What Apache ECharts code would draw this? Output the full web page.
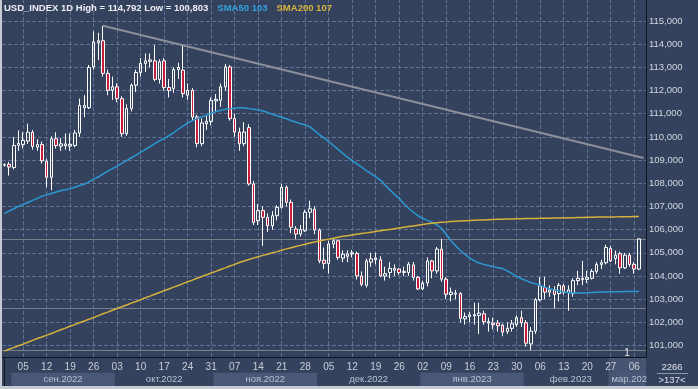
<!DOCTYPE html>
<html><head><meta charset="utf-8">
<script src="https://cdn.jsdelivr.net/npm/echarts@6.0.0/dist/echarts.min.js"></script>
<style>html,body{margin:0;padding:0;background:#35425e;overflow:hidden}#c{width:698px;height:389px}</style>
</head><body><div id="c"></div>
<script>
// ---- data ----
const dates = [
'2022-08-30','2022-08-31','2022-09-01','2022-09-02',
'2022-09-05','2022-09-06','2022-09-07','2022-09-08','2022-09-09',
'2022-09-12','2022-09-13','2022-09-14','2022-09-15','2022-09-16',
'2022-09-19','2022-09-20','2022-09-21','2022-09-22','2022-09-23',
'2022-09-26','2022-09-27','2022-09-28','2022-09-29','2022-09-30',
'2022-10-03','2022-10-04','2022-10-05','2022-10-06','2022-10-07',
'2022-10-10','2022-10-11','2022-10-12','2022-10-13','2022-10-14',
'2022-10-17','2022-10-18','2022-10-19','2022-10-20','2022-10-21',
'2022-10-24','2022-10-25','2022-10-26','2022-10-27','2022-10-28',
'2022-10-31','2022-11-01','2022-11-02','2022-11-03','2022-11-04',
'2022-11-07','2022-11-08','2022-11-09','2022-11-10','2022-11-11',
'2022-11-14','2022-11-15','2022-11-16','2022-11-17','2022-11-18',
'2022-11-21','2022-11-22','2022-11-23','2022-11-24','2022-11-25',
'2022-11-28','2022-11-29','2022-11-30','2022-12-01','2022-12-02',
'2022-12-05','2022-12-06','2022-12-07','2022-12-08','2022-12-09',
'2022-12-12','2022-12-13','2022-12-14','2022-12-15','2022-12-16',
'2022-12-19','2022-12-20','2022-12-21','2022-12-22','2022-12-23',
'2022-12-26','2022-12-27','2022-12-28','2022-12-29','2022-12-30',
'2023-01-02','2023-01-03','2023-01-04','2023-01-05','2023-01-06',
'2023-01-09','2023-01-10','2023-01-11','2023-01-12','2023-01-13',
'2023-01-16','2023-01-17','2023-01-18','2023-01-19','2023-01-20',
'2023-01-23','2023-01-24','2023-01-25','2023-01-26','2023-01-27',
'2023-01-30','2023-01-31','2023-02-01','2023-02-02','2023-02-03',
'2023-02-06','2023-02-07','2023-02-08','2023-02-09','2023-02-10',
'2023-02-13','2023-02-14','2023-02-15','2023-02-16','2023-02-17',
'2023-02-20','2023-02-21','2023-02-22','2023-02-23','2023-02-24',
'2023-02-27','2023-02-28','2023-03-01','2023-03-02','2023-03-03',
'2023-03-06','2023-03-07','2023-03-08'
];
// [open, close, low, high]
const candles = [
[108.78,108.80,108.72,108.86],[108.82,108.70,108.33,108.92],[108.68,109.63,108.60,110.00],[109.63,109.72,109.40,110.28],
[109.67,109.85,109.50,110.20],[109.82,110.20,109.70,110.57],[110.20,109.59,109.45,110.30],[109.56,109.67,109.40,109.90],[109.67,108.97,108.85,109.80],
[108.95,108.26,107.83,109.05],[108.26,109.92,107.70,110.02],[109.92,109.63,109.50,110.20],[109.60,109.70,109.40,109.95],[109.62,109.70,109.45,110.15],
[109.60,109.68,109.40,110.15],[109.63,110.17,109.55,110.30],[110.17,111.36,110.00,111.65],[111.26,111.36,110.85,111.80],[111.26,113.00,111.20,113.10],
[113.02,114.10,112.90,114.55],[114.06,114.15,113.31,114.49],[114.15,112.74,112.60,114.792],[112.74,112.01,111.80,112.90],[112.01,112.16,111.60,112.60],
[112.16,111.65,111.50,112.30],[111.65,110.14,110.00,111.75],[110.14,111.22,110.05,111.40],[111.22,112.23,111.10,112.30],[112.23,112.78,111.94,112.90],
[112.78,113.17,112.60,113.40],[113.17,113.28,112.80,113.60],[113.26,113.32,113.00,113.60],[113.28,112.48,112.40,113.96],[112.48,113.24,112.30,113.35],
[113.28,112.13,112.00,113.40],[112.13,112.00,111.70,112.50],[112.09,112.90,111.90,113.00],[112.90,113.00,112.50,113.20],[112.88,111.87,111.70,113.96],
[111.80,112.01,111.60,112.30],[112.01,110.86,110.70,112.10],[110.86,109.71,109.55,110.95],[109.71,110.60,109.60,110.80],[110.57,110.67,110.30,110.90],
[110.67,111.58,110.50,111.70],[111.55,111.62,111.10,111.85],[111.58,112.16,111.30,112.30],[112.16,113.02,112.00,113.15],[113.02,110.79,110.70,113.10],
[110.79,110.21,110.00,111.00],[110.21,109.71,109.40,110.40],[109.71,110.21,109.60,110.64],[110.40,107.97,107.90,110.55],[107.97,106.31,106.20,108.10],
[106.39,106.82,106.20,107.10],[106.82,106.53,105.30,107.00],[106.53,106.17,105.90,106.70],[106.17,106.60,106.00,106.80],[106.60,106.96,106.40,107.05],
[106.96,107.83,106.90,107.97],[107.83,107.18,107.00,107.90],[107.18,106.10,105.85,107.30],[106.03,105.81,105.60,106.15],[105.81,106.00,105.70,106.20],
[105.95,106.75,105.90,106.85],[106.75,106.90,106.50,107.25],[106.88,105.98,105.80,107.00],[105.98,104.65,104.55,106.05],[104.68,104.54,104.30,105.23],
[104.54,105.38,104.10,105.52],[105.38,105.52,105.20,105.58],[105.52,104.80,104.70,105.55],[104.77,104.94,104.60,105.10],[104.85,104.95,104.60,105.10],
[104.95,105.00,104.80,105.12],[104.97,104.00,103.85,105.05],[104.00,103.64,103.55,104.20],[103.60,104.65,103.50,104.75],[104.60,104.74,104.40,105.00],
[104.70,104.78,104.50,105.00],[104.70,104.00,103.95,104.85],[104.00,104.10,103.80,104.40],[104.15,104.33,103.90,104.60],[104.25,104.33,104.00,104.50],
[104.30,104.15,104.05,104.35],[104.15,104.20,104.00,104.40],[104.15,104.51,104.00,104.60],[104.48,103.94,103.80,104.60],[103.94,103.44,103.40,104.00],
[103.44,103.70,103.40,103.80],[103.70,104.65,103.55,104.80],[104.65,104.22,103.90,104.70],[104.22,105.16,104.10,105.25],[105.16,103.86,103.75,105.60],
[103.86,103.21,103.00,103.95],[103.20,103.30,102.90,103.50],[103.22,103.26,103.00,103.40],[103.24,102.17,102.00,103.30],[102.15,102.25,101.90,102.42],
[102.25,102.32,102.00,102.45],[102.28,102.33,101.90,102.85],[102.30,102.40,101.50,102.85],[102.37,102.03,101.90,102.50],[101.97,102.03,101.60,102.20],
[101.97,101.90,101.70,102.20],[101.97,101.85,101.60,102.10],[101.88,101.58,101.40,101.95],[101.60,101.74,101.50,102.00],[101.74,101.94,101.60,102.10],
[101.90,102.20,101.80,102.30],[102.20,101.98,101.80,102.50],[101.98,101.10,100.95,102.10],[101.07,101.62,100.803,101.80],[101.62,102.97,101.50,103.05],
[102.97,103.57,102.90,103.95],[103.50,103.30,103.00,103.96],[103.30,103.40,103.10,103.60],[103.40,103.20,102.60,103.55],[103.24,103.60,102.90,103.70],
[103.57,103.28,103.20,103.65],[103.28,103.40,102.50,103.60],[103.24,103.80,103.10,103.90],[103.80,103.90,103.60,104.22],[103.90,103.85,103.60,104.65],
[103.85,103.93,103.70,104.22],[103.90,104.20,103.85,104.30],[104.20,104.50,104.10,104.60],[104.50,104.57,104.30,104.70],[104.57,105.23,104.50,105.35],
[105.19,104.65,104.60,105.30],[104.75,104.90,104.50,105.10],[104.96,104.35,104.10,105.05],[104.35,104.90,104.30,105.00],[104.90,104.50,104.40,105.00],
[104.50,104.30,104.10,104.60],[104.30,105.60,104.25,105.62],
'-'
];
const sma50 = [
106.70,106.80,106.90,107.00,
107.09,107.17,107.26,107.35,107.44,107.50,107.56,107.62,107.68,107.72,
107.76,107.83,107.90,107.96,108.06,108.18,108.28,108.40,108.52,108.63,
108.74,108.86,108.98,109.10,109.21,109.33,109.46,109.58,109.71,109.83,
109.93,110.05,110.18,110.33,110.47,110.60,110.70,110.79,110.87,110.94,
111.02,111.09,111.15,111.19,111.22,111.24,111.26,111.26,111.22,111.19,
111.16,111.12,111.06,110.98,110.91,110.85,110.78,110.70,110.64,110.57,
110.52,110.44,110.27,110.10,109.96,109.80,109.63,109.46,109.29,109.13,
108.98,108.84,108.70,108.55,108.42,108.28,108.14,107.92,107.72,107.52,
107.35,107.12,106.92,106.75,106.60,106.48,106.40,106.32,106.20,106.05,
105.80,105.52,105.30,105.10,104.93,104.78,104.65,104.56,104.50,104.45,
104.40,104.36,104.32,104.22,104.10,103.98,103.88,103.80,103.72,103.66,
103.60,103.52,103.45,103.40,103.35,103.31,103.29,103.27,103.27,103.27,
103.28,103.29,103.30,103.31,103.31,103.32,103.32,103.32,103.33,103.33,103.33,103.33,
null
];
const sma200 = [
100.76,100.84,100.91,100.99,
101.06,101.14,101.22,101.30,101.37,101.45,101.52,101.60,101.68,101.75,
101.83,101.90,101.98,102.06,102.13,102.21,102.29,102.37,102.44,102.52,
102.60,102.67,102.75,102.83,102.90,102.98,103.06,103.13,103.21,103.29,
103.36,103.44,103.52,103.59,103.67,103.75,103.82,103.90,103.98,104.05,
104.13,104.20,104.28,104.35,104.43,104.50,104.58,104.65,104.71,104.77,
104.83,104.89,104.94,105.00,105.05,105.11,105.17,105.22,105.27,105.32,
105.37,105.42,105.47,105.51,105.55,105.59,105.63,105.67,105.71,105.74,
105.77,105.80,105.83,105.86,105.89,105.92,105.95,105.98,106.01,106.04,
106.07,106.10,106.13,106.16,106.19,106.22,106.25,106.28,106.30,106.32,
106.33,106.35,106.36,106.37,106.38,106.39,106.40,106.41,106.42,106.43,
106.44,106.45,106.45,106.46,106.46,106.47,106.47,106.48,106.48,106.48,
106.49,106.49,106.49,106.50,106.50,106.50,106.51,106.51,106.52,106.52,
106.53,106.53,106.54,106.54,106.55,106.55,106.55,106.56,106.56,106.56,106.57,106.57,
null
];
const yTicks = [101,102,103,104,105,106,107,108,109,110,111,112,113,114,115];
const levels = [105.600, 102.614, 100.803];
const trendStart = ['2022-09-28', 114.792];
const trendAtAxis = 109.067;
const monthKeys = ['2022-09','2022-10','2022-11','2022-12','2023-01','2023-02','2023-03'];
const monthLabels = ['сен.2022','окт.2022','ноя.2022','дек.2022','янв.2023','фев.2023','мар.2023'];
const monthShaded = [true,false,true,false,true,false,true];
const overlayFrom = '2023-02-27';
const barsInfo = ['2266', '>137<'];

// ---- styling ----
const BG = '#35425e';
const GRIDC = '#617193';
const FONT = "'Liberation Sans',Arial,sans-serif";
const FS = 9.5;
const Y_MIN = 100.505, Y_MAX = 115.906;
const fmt = v => v.toFixed(3).replace('.', ',');
const isMon = s => new Date(s + 'T00:00:00Z').getUTCDay() === 1;
const N = dates.length;
const mondays = dates.filter(isMon);
const real = candles.filter(Array.isArray);
const hi = Math.max(...real.map(c => c[3]));
const lo = Math.min(...real.map(c => c[2]));
const last50 = sma50[N - 2], last200 = sma200[N - 2];

const tStartIdx = dates.indexOf(trendStart[0]);
const slope = (trendAtAxis - trendStart[1]) / ((N - 0.5) - tStartIdx);
const trendEnd = trendStart[1] + slope * ((N - 1) - tStartIdx);

function tagLabel(text, bg, fg) {
  return {
    show: true, position: 'end', distance: 1,
    formatter: '{a|◀}{b|' + text + '}',
    rich: {
      a: {color: bg, fontSize: 8, fontFamily: 'DejaVu Sans', lineHeight: 13, padding: [0, 0, 0, 0]},
      b: {backgroundColor: bg, color: fg, fontSize: 10, fontFamily: FONT, width: 40, height: 13, lineHeight: 13, padding: [0, 0, 0, 2]}
    }
  };
}
const BEIGE = '#e3e3d3';
const dashStyle = {color: GRIDC, type: 'dashed', width: 1, opacity: 1};

const starts = monthKeys.map(k => dates.findIndex(d => d.startsWith(k)));
const monthAreas = monthKeys.map((k, i) => {
  const s = starts[i], e = i < monthKeys.length - 1 ? starts[i + 1] : N;
  return [
    {xAxis: s - 0.5, yAxis: 0, name: monthLabels[i],
     itemStyle: {color: monthShaded[i] ? '#4a5877' : 'rgba(0,0,0,0)'},
     label: {show: true, position: 'inside', color: '#b9c1d1', fontSize: FS, fontFamily: FONT}},
    {xAxis: e - 0.5, yAxis: 0.95}
  ];
});

const chart = echarts.init(document.getElementById('c'), null, {renderer: 'canvas'});
chart.setOption({
  backgroundColor: BG,
  animation: false,
  title: {
    left: 4, top: 3, padding: 0,
    text: '{a|USD_INDEX 1D High = ' + fmt(hi) + ' Low = ' + fmt(lo) + '}{b|SMA50 ' + Math.round(last50) + '}{c|SMA200 ' + Math.round(last200) + '}',
    textStyle: {rich: {
      a: {color: '#eceef2', fontSize: FS, fontFamily: FONT, padding: [0, 9, 0, 0]},
      b: {color: '#33a2e2', fontSize: FS, fontFamily: FONT, padding: [0, 9, 0, 0]},
      c: {color: '#d9b43c', fontSize: FS, fontFamily: FONT}
    }}
  },
  grid: [
    {left: 2, right: 52, top: 0, height: 357},
    {left: 2, right: 52, top: 358, height: 28}
  ],
  xAxis: [
    {type: 'category', data: dates, gridIndex: 0, boundaryGap: true,
     axisLine: {show: true, lineStyle: {color: '#10151f', width: 1}},
     axisTick: {show: false},
     axisLabel: {interval: (i, v) => isMon(v), formatter: v => v.slice(8), color: '#c9ced8',
                 fontSize: 10, fontFamily: FONT, margin: 5},
     splitLine: {show: false}},
    {type: 'value', gridIndex: 1, min: -0.5, max: N - 0.5, show: false}
  ],
  yAxis: [
    {type: 'value', gridIndex: 0, position: 'right', min: Y_MIN, max: Y_MAX,
     axisLine: {show: true, lineStyle: {color: '#10151f', width: 1}},
     axisLabel: {show: false}, axisTick: {show: false}, splitLine: {show: false}},
    {type: 'value', gridIndex: 1, position: 'right', min: 0, max: 2,
     axisLine: {show: true, lineStyle: {color: '#10151f', width: 1}},
     axisLabel: {show: false}, axisTick: {show: false}, splitLine: {show: false}}
  ],
  series: [
    { // horizontal grid lines and price scale labels
      type: 'line', data: dates.map(() => '-'), z: 1, silent: true,
      markLine: {
        symbol: 'none', silent: true, z: 1, animation: false,
        lineStyle: dashStyle,
        label: {show: false},
        data: yTicks.map(v => ({yAxis: v, lineStyle: dashStyle, label: {show: true, position: 'end', distance: 3,
                  formatter: fmt(v), color: '#d3d7df', fontSize: FS, fontFamily: FONT}}))
      }
    },
    { // vertical (weekly) grid lines
      type: 'line', data: dates.map(() => '-'), z: 1, silent: true,
      markLine: {
        symbol: 'none', silent: true, z: 1, animation: false,
        lineStyle: dashStyle,
        label: {show: false},
        data: mondays.map(d => ({xAxis: d, lineStyle: dashStyle}))
      }
    },
    {
      type: 'candlestick', name: 'USD_INDEX', data: candles, z: 2, barWidth: 3,
      itemStyle: {color: 'transparent', color0: '#c41e3a', borderColor: '#ffffff', borderColor0: '#ffffff', borderWidth: 1},
      markLine: {
        symbol: 'none', silent: true, z: 1, animation: false,
        label: {show: false},
        lineStyle: {color: '#7b818c', type: 'solid', width: 1},
        data: levels.map(v => ({yAxis: v}))
      }
    },
    {
      type: 'line', name: 'SMA50', data: sma50, symbol: 'none', z: 3,
      lineStyle: {color: '#2b98d4', width: 1.5},
      markLine: {symbol: 'none', silent: true, z: 10, animation: false,
        data: [{yAxis: last50, lineStyle: {opacity: 0}, label: tagLabel(String(Math.round(last50)), '#35b0da', '#0d1824')}]}
    },
    {
      type: 'line', name: 'SMA200', data: sma200, symbol: 'none', z: 3,
      lineStyle: {color: '#d4b23c', width: 1.5},
      markLine: {symbol: 'none', silent: true, z: 10, animation: false,
        data: [{yAxis: last200, lineStyle: {opacity: 0}, label: tagLabel(String(Math.round(last200)), '#c2ae3e', '#1a1a10')}]}
    },
    { // trend line + price tags
      type: 'line', data: dates.map(() => '-'), z: 4, silent: true,
      markLine: {
        symbol: 'none', silent: true, z: 10, animation: false,
        label: {show: false},
        data: [
          [{coord: [trendStart[0], trendStart[1]], lineStyle: {color: '#8b9099', width: 2, type: 'solid'}},
           {coord: [dates[N - 1], trendEnd], lineStyle: {color: '#8b9099', width: 2, type: 'solid'}}],
          {yAxis: trendAtAxis, lineStyle: {opacity: 0}, label: tagLabel(fmt(trendAtAxis), BEIGE, '#202020')}
        ].concat(levels.map(v => ({yAxis: v, lineStyle: {opacity: 0}, label: tagLabel(fmt(v), BEIGE, '#202020')})))
      }
    },
    { // overlay of the last period on the date scale
      type: 'line', xAxisIndex: 1, yAxisIndex: 1, data: [[-10, -10]], symbol: 'none', z: -1, silent: true,
      markArea: {silent: true, z: -1,
        data: [[{xAxis: dates.indexOf(overlayFrom) - 0.5, yAxis: 0, itemStyle: {color: 'rgba(120,136,168,0.28)'}}, {xAxis: N - 0.5, yAxis: 2}]]}
    },
    { // month bands
      type: 'line', xAxisIndex: 1, yAxisIndex: 1, data: [[-10, -10]], symbol: 'none', z: 1, silent: true,
      markArea: {silent: true, z: 1, data: monthAreas}
    }
  ],
  graphic: [
    {type: 'rect', z: 100, silent: true, shape: {x: 0, y: 0, width: 2, height: 389}, style: {fill: '#c6cad2'}},
    {type: 'rect', z: 100, silent: true, shape: {x: 0, y: 386, width: 698, height: 3}, style: {fill: '#c6cad2'}},
    {type: 'rect', z: 90, silent: true, shape: {x: 647, y: 358, width: 51, height: 28}, style: {fill: BG}},
    {type: 'text', z: 101, silent: true, x: 672, y: 367, style: {text: barsInfo[0], fill: '#dde1e8', font: FS + 'px ' + FONT, align: 'center', verticalAlign: 'middle'}},
    {type: 'line', z: 101, silent: true, shape: {x1: 657, y1: 373.5, x2: 688, y2: 373.5}, style: {stroke: '#8995aa', lineWidth: 1}},
    {type: 'text', z: 101, silent: true, x: 672, y: 380, style: {text: barsInfo[1], fill: '#dde1e8', font: FS + 'px ' + FONT, align: 'center', verticalAlign: 'middle'}},
    {type: 'text', z: 101, silent: true, x: 627, y: 353, style: {text: '1', fill: '#e6e8ee', font: '10px ' + FONT, align: 'center', verticalAlign: 'middle'}}
  ]
});
</script>
</body></html>
